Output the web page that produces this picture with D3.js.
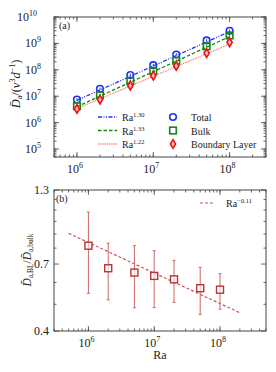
<!DOCTYPE html>
<html>
<head>
<meta charset="utf-8">
<script src="https://cdn.jsdelivr.net/npm/d3@7"></script>
<style>
  body { margin: 0; background: #fff; }
  text { font-family: "Liberation Serif", "DejaVu Serif", serif; fill: #222; }
</style>
</head>
<body>
<script>
// data
var ra = [1e6, 2e6, 5e6, 1e7, 2e7, 5e7, 1e8];
var total = [7.5e6, 1.9e7, 6.3e7, 1.5e8, 3.8e8, 1.3e9, 3.0e9];
var bulk = [4.2e6, 1.1e7, 3.8e7, 9.0e7, 2.2e8, 7.8e8, 2.0e9];
var boundary = [3.3e6, 7.5e6, 2.5e7, 6.0e7, 1.4e8, 4.3e8, 1.1e9];
// fit lines, end points [Ra, value]
var fitTotal = [[1e6, 7.0e6], [1e8, 2.8e9]];
var fitBulk = [[1e6, 4.0e6], [1e8, 1.8e9]];
var fitBL = [[1e6, 3.4e6], [1e8, 9.5e8]];
var fitExps = ["1.30", "1.33", "1.22"];
// panel b: ratio BL / bulk
var ratio = [0.816, 0.676, 0.652, 0.634, 0.616, 0.572, 0.565];
var ratioHi = [1.08, 0.833, 0.816, 0.783, 0.722, 0.681, 0.646];
var ratioLo = [0.548, 0.519, 0.486, 0.487, 0.508, 0.460, 0.480];
var fitRatio = [[5e5, 0.905], [2e8, 0.466]];
var yTicksB = [0.4, 0.7, 1.3];
var yMinorB = [0.5, 0.6, 0.8, 0.9, 1.0, 1.1, 1.2];

var w = 276, h = 372;
var svg = d3.select("body").append("svg").attr("width", w).attr("height", h);

var L = 54, R = 266;
var xa = d3.scaleLog().domain([5e5, 3e8]).range([L, R]);
var ya = d3.scaleLog().domain([5e4, 1e10]).range([157, 17]);
var xb = d3.scaleLog().domain([3e5, 5e8]).range([L, R]);
var yb = d3.scaleLog().domain([0.4, 1.3]).range([331, 190]);

function minorLog(dom) {
  var out = [];
  for (var e = Math.floor(Math.log10(dom[0])); e <= Math.ceil(Math.log10(dom[1])); e++) {
    for (var m = 1; m < 10; m++) {
      var v = m * Math.pow(10, e);
      if (v >= dom[0] && v <= dom[1]) out.push(v);
    }
  }
  return out;
}

function frame(x, y, yMajor, yMinor) {
  var g = svg.append("g");
  var x0 = x.range()[0], x1 = x.range()[1], y0 = y.range()[1], y1 = y.range()[0];
  var xMajor = x.ticks().filter(function(v) { return Math.abs(Math.log10(v) % 1) < 1e-9; });
  var xMinor = minorLog(x.domain());
  function ticksX(vals, len) {
    vals.forEach(function(v) {
      g.append("line").attr("x1", x(v)).attr("x2", x(v)).attr("y1", y1).attr("y2", y1 - len);
      g.append("line").attr("x1", x(v)).attr("x2", x(v)).attr("y1", y0).attr("y2", y0 + len);
    });
  }
  function ticksY(vals, len) {
    vals.forEach(function(v) {
      g.append("line").attr("x1", x0).attr("x2", x0 + len).attr("y1", y(v)).attr("y2", y(v));
      g.append("line").attr("x1", x1).attr("x2", x1 - len).attr("y1", y(v)).attr("y2", y(v));
    });
  }
  ticksX(xMinor, 2.5);
  ticksX(xMajor, 5);
  ticksY(yMinor, 2.5);
  ticksY(yMajor, 5);
  g.selectAll("line").attr("stroke", "#444").attr("stroke-width", 0.8);
  g.append("rect").attr("x", x0).attr("y", y0).attr("width", x1 - x0).attr("height", y1 - y0)
    .attr("fill", "none").attr("stroke", "#444").attr("stroke-width", 1);
  xMajor.forEach(function(v) {
    var t = g.append("text").attr("x", x(v) - 2).attr("y", y1 + 16).attr("text-anchor", "middle")
      .attr("font-size", 12).text("10");
    t.append("tspan").attr("dy", -5).attr("font-size", 8).text(Math.round(Math.log10(v)));
  });
  return g;
}

// ---------- panel (a)
var ga = frame(xa, ya, [1e5, 1e6, 1e7, 1e8, 1e9, 1e10], minorLog([5e4, 1e10]));
[1e5, 1e6, 1e7, 1e8, 1e9, 1e10].forEach(function(v) {
  var e = Math.round(Math.log10(v));
  var t = ga.append("text").attr("x", e > 9 ? 37 : 41).attr("y", ya(v) + 4).attr("text-anchor", "end")
    .attr("font-size", 12).text("10");
  t.append("tspan").attr("dy", -5).attr("font-size", 8).text(e);
});
ga.append("text").attr("x", 59).attr("y", 29).attr("font-size", 10).text("(a)");

var line = function(x, y) {
  return d3.line().x(function(d) { return x(d[0]); }).y(function(d) { return y(d[1]); });
};
var la = line(xa, ya);
var series = [
  { vals: total, fit: fitTotal, color: "#2233ee", dash: "4,1.5,1,1.5,1,1.5", name: "Total", shape: "circle" },
  { vals: bulk, fit: fitBulk, color: "#118811", dash: "3.5,2", name: "Bulk", shape: "square" },
  { vals: boundary, fit: fitBL, color: "#ff7777", dash: "1,0.8", name: "Boundary Layer", shape: "diamond" }
];

function marker(sel, shape, color, cx, cy) {
  if (shape === "circle") {
    sel.append("circle").attr("cx", cx).attr("cy", cy).attr("r", 3.3)
      .attr("fill", "none").attr("stroke", color).attr("stroke-width", 1.6);
  } else if (shape === "square") {
    sel.append("rect").attr("x", cx - 3.3).attr("y", cy - 3.3).attr("width", 6.6).attr("height", 6.6)
      .attr("fill", "none").attr("stroke", color).attr("stroke-width", 1.6);
  } else {
    sel.append("path").attr("d", "M" + cx + "," + (cy - 4.3) + "L" + (cx + 2.6) + "," + cy +
      "L" + cx + "," + (cy + 4.3) + "L" + (cx - 2.6) + "," + cy + "Z")
      .attr("fill", "#ffbbbb").attr("stroke", "#ee1111").attr("stroke-width", 1.6);
  }
}

series.forEach(function(s) {
  svg.append("path").datum(s.fit).attr("d", la).attr("fill", "none")
    .attr("stroke", s.color).attr("stroke-width", 1.3).attr("stroke-dasharray", s.dash);
});
series.forEach(function(s) {
  ra.forEach(function(r, i) {
    svg.append("line").attr("x1", xa(r)).attr("x2", xa(r))
      .attr("y1", ya(s.vals[i] * 1.12)).attr("y2", ya(s.vals[i] / 1.12))
      .attr("stroke", s.shape === "diamond" ? "#ee1111" : s.color).attr("stroke-width", 1);
    marker(svg, s.shape, s.color, xa(r), ya(s.vals[i]));
  });
});

// legend (a)
series.forEach(function(s, i) {
  var yy = 117 + i * 13.5;
  svg.append("line").attr("x1", 98).attr("x2", 117).attr("y1", yy).attr("y2", yy)
    .attr("stroke", s.color).attr("stroke-width", 1.3).attr("stroke-dasharray", s.dash);
  var t = svg.append("text").attr("x", 122).attr("y", yy + 4).attr("font-size", 10).text("Ra");
  t.append("tspan").attr("dy", -4).attr("font-size", 6.5).text(fitExps[i]);
  marker(svg, s.shape, s.color, 173, yy);
  svg.append("text").attr("x", 191).attr("y", yy + 4).attr("font-size", 10).text(s.name);
});

// y label (a)
var yla = svg.append("text").attr("transform", "translate(20,84) rotate(-90)")
  .attr("text-anchor", "middle").attr("font-size", 12.5);
yla.append("tspan").attr("font-style", "italic").text("D\u0304");
yla.append("tspan").attr("font-size", 8).attr("dy", 2).text("a");
yla.append("tspan").attr("dy", -2).text("/(");
yla.append("tspan").attr("font-style", "italic").text("\u03bd");
yla.append("tspan").attr("font-size", 8).attr("dy", -5).text("3");
yla.append("tspan").attr("font-style", "italic").attr("dy", 5).text("d");
yla.append("tspan").attr("font-size", 8).attr("dy", -5).text("\u22121");
yla.append("tspan").attr("dy", 5).text(")");

// ---------- panel (b)
var gb = frame(xb, yb, yTicksB, yMinorB);
yTicksB.forEach(function(v) {
  gb.append("text").attr("x", 49).attr("y", yb(v) + 4).attr("text-anchor", "end")
    .attr("font-size", 12).text(d3.format(".1f")(v));
});
gb.append("text").attr("x", 56).attr("y", 202).attr("font-size", 10).text("(b)");

var lb = line(xb, yb);
svg.append("path").datum(fitRatio).attr("d", lb).attr("fill", "none")
  .attr("stroke", "#cc5555").attr("stroke-width", 1.2).attr("stroke-dasharray", "3,2");

ra.forEach(function(r, i) {
  var cx = xb(r);
  svg.append("line").attr("x1", cx).attr("x2", cx).attr("y1", yb(ratioHi[i])).attr("y2", yb(ratioLo[i]))
    .attr("stroke", "#cc6666").attr("stroke-width", 1);
  [ratioHi[i], ratioLo[i]].forEach(function(v) {
    svg.append("line").attr("x1", cx - 1.5).attr("x2", cx + 1.5).attr("y1", yb(v)).attr("y2", yb(v))
      .attr("stroke", "#cc6666").attr("stroke-width", 1);
  });
  svg.append("rect").attr("x", cx - 3.5).attr("y", yb(ratio[i]) - 3.5).attr("width", 7).attr("height", 7)
    .attr("fill", "#fff").attr("fill-opacity", 0.6).attr("stroke", "#bb3333").attr("stroke-width", 1.4);
});

// legend (b)
svg.append("line").attr("x1", 200).attr("x2", 213).attr("y1", 203).attr("y2", 203)
  .attr("stroke", "#cc5555").attr("stroke-width", 1.2).attr("stroke-dasharray", "3,2");
var tb = svg.append("text").attr("x", 226).attr("y", 207).attr("font-size", 10).text("Ra");
tb.append("tspan").attr("dy", -4).attr("font-size", 6.5).text("\u22120.11");

// axis labels (b)
svg.append("text").attr("x", 160).attr("y", 359).attr("text-anchor", "middle")
  .attr("font-size", 12).text("Ra");
var ylb = svg.append("text").attr("transform", "translate(31,260) rotate(-90)")
  .attr("text-anchor", "middle").attr("font-size", 11.5);
ylb.append("tspan").attr("font-style", "italic").text("D\u0304");
ylb.append("tspan").attr("font-size", 7.5).attr("dy", 2).text("a,BL");
ylb.append("tspan").attr("dy", -2).text("/");
ylb.append("tspan").attr("font-style", "italic").text("D\u0304");
ylb.append("tspan").attr("font-size", 7.5).attr("dy", 2).text("a,bulk");
</script>
</body>
</html>
